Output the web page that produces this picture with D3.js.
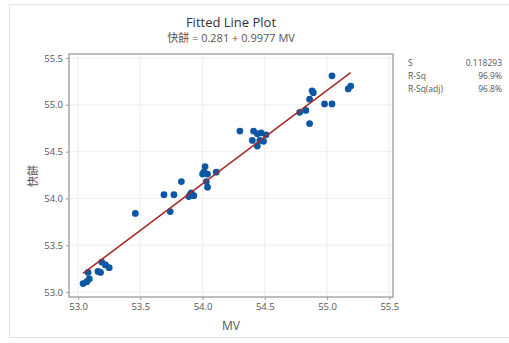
<!DOCTYPE html>
<html>
<head>
<meta charset="utf-8">
<script src="https://cdn.jsdelivr.net/npm/d3@7"></script>
<style>
  body { margin: 0; background: #fff; }
  text { font-family: "Open Sans", "Noto Sans CJK TC", sans-serif; }
</style>
</head>
<body>
<div class="container"></div>
<script>
const width = 509;
const height = 343;

// MV values (x) and 快餅 values (y)
const mv = [53.04, 53.07, 53.09, 53.08, 53.16, 53.18, 53.19, 53.22, 53.25,
  53.46, 53.69, 53.77, 53.74, 53.83, 53.89, 53.91, 53.93, 53.90,
  54.00, 54.01, 54.02, 54.04, 54.03, 54.11, 54.02, 54.04,
  54.30, 54.41, 54.44, 54.47, 54.51, 54.40, 54.46, 54.49, 54.44,
  54.78, 54.83, 54.86, 54.86, 54.88, 54.89, 54.98, 55.04, 55.04, 55.17, 55.19];
const kb = [53.09, 53.11, 53.14, 53.21, 53.22, 53.21, 53.32, 53.29, 53.26,
  53.84, 54.04, 54.04, 53.86, 54.18, 54.02, 54.06, 54.03, 54.04,
  54.26, 54.28, 54.34, 54.26, 54.18, 54.28, 54.27, 54.12,
  54.72, 54.72, 54.69, 54.70, 54.68, 54.62, 54.62, 54.61, 54.56,
  54.92, 54.94, 55.06, 54.80, 55.15, 55.13, 55.01, 55.01, 55.31, 55.17, 55.20];

const xTicks = [53.0, 53.5, 54.0, 54.5, 55.0, 55.5];
const yTicks = [53.0, 53.5, 54.0, 54.5, 55.0, 55.5];
const fit = { b0: 0.281, b1: 0.9977 };
const statNames = ['S', 'R-Sq', 'R-Sq(adj)'];
const statValues = ['0.118293', '96.9%', '96.8%'];

const plotLeft = 69, plotRight = 393, plotTop = 54, plotBottom = 297;

const svg = d3.select('.container')
  .append('svg')
  .attr('width', width)
  .attr('height', height);

svg.append('rect')
  .attr('x', 9.5).attr('y', 4.5)
  .attr('width', 510).attr('height', 333)
  .attr('fill', 'none')
  .attr('stroke', '#e2e2e2');

const xScale = d3.scaleLinear()
  .domain([52.927, 55.53])
  .range([plotLeft, plotRight]);

const yScale = d3.scaleLinear()
  .domain([52.947, 55.543])
  .range([plotBottom, plotTop]);

// grid
svg.append('g')
  .selectAll('line')
  .data(xTicks)
  .enter()
  .append('line')
  .attr('x1', d => xScale(d)).attr('x2', d => xScale(d))
  .attr('y1', plotTop).attr('y2', plotBottom)
  .attr('stroke', '#eeeeee');

svg.append('g')
  .selectAll('line')
  .data(yTicks)
  .enter()
  .append('line')
  .attr('y1', d => yScale(d)).attr('y2', d => yScale(d))
  .attr('x1', plotLeft).attr('x2', plotRight)
  .attr('stroke', '#eeeeee');

// axes
const xAxis = svg.append('g')
  .attr('transform', `translate(0,${plotBottom})`)
  .call(d3.axisBottom(xScale).tickValues(xTicks).tickFormat(d3.format('.1f')).tickSizeOuter(0).tickSize(3));

const yAxis = svg.append('g')
  .attr('transform', `translate(${plotLeft},0)`)
  .call(d3.axisLeft(yScale).tickValues(yTicks).tickFormat(d3.format('.1f')).tickSizeOuter(0).tickSize(3));

[xAxis, yAxis].forEach(a => {
  a.select('.domain').remove();
  a.selectAll('line').attr('stroke', '#999');
  a.selectAll('text').attr('fill', '#555').style('font-size', '9.5px');
});

svg.append('rect')
  .attr('x', plotLeft).attr('y', plotTop)
  .attr('width', plotRight - plotLeft).attr('height', plotBottom - plotTop)
  .attr('fill', 'none')
  .attr('stroke', '#a8a8a8')
  .attr('stroke-width', 1.5);

// points
svg.append('g')
  .selectAll('circle')
  .data(mv)
  .enter()
  .append('circle')
  .attr('cx', d => xScale(d))
  .attr('cy', (d, i) => yScale(kb[i]))
  .attr('r', 3.4)
  .attr('fill', '#0b57a4');

// fitted line
const [xMin, xMax] = d3.extent(mv);
svg.append('line')
  .attr('x1', xScale(xMin)).attr('y1', yScale(fit.b0 + fit.b1 * xMin))
  .attr('x2', xScale(xMax)).attr('y2', yScale(fit.b0 + fit.b1 * xMax))
  .attr('stroke', '#a52a2a')
  .attr('stroke-width', 1.6);

// titles
svg.append('text')
  .attr('x', 231).attr('y', 27)
  .attr('text-anchor', 'middle')
  .attr('fill', '#333')
  .style('font-size', '13px')
  .text('Fitted Line Plot');

svg.append('text')
  .attr('x', 231).attr('y', 42)
  .attr('text-anchor', 'middle')
  .attr('fill', '#555')
  .style('font-size', '11px')
  .text(`快餅 = ${fit.b0} + ${fit.b1} MV`);

svg.append('text')
  .attr('x', 231).attr('y', 330)
  .attr('text-anchor', 'middle')
  .attr('fill', '#555')
  .style('font-size', '12px')
  .text('MV');

svg.append('text')
  .attr('transform', 'translate(37,176) rotate(-90)')
  .attr('text-anchor', 'middle')
  .attr('fill', '#555')
  .style('font-size', '11px')
  .text('快餅');

// stats
statNames.forEach((s, i) => {
  svg.append('text')
    .attr('x', 408).attr('y', 66 + i * 13)
    .attr('fill', '#555')
    .style('font-size', '8.5px')
    .text(s);
  svg.append('text')
    .attr('x', 502).attr('y', 66 + i * 13)
    .attr('text-anchor', 'end')
    .attr('fill', '#555')
    .style('font-size', '8.5px')
    .text(statValues[i]);
});
</script>
</body>
</html>
